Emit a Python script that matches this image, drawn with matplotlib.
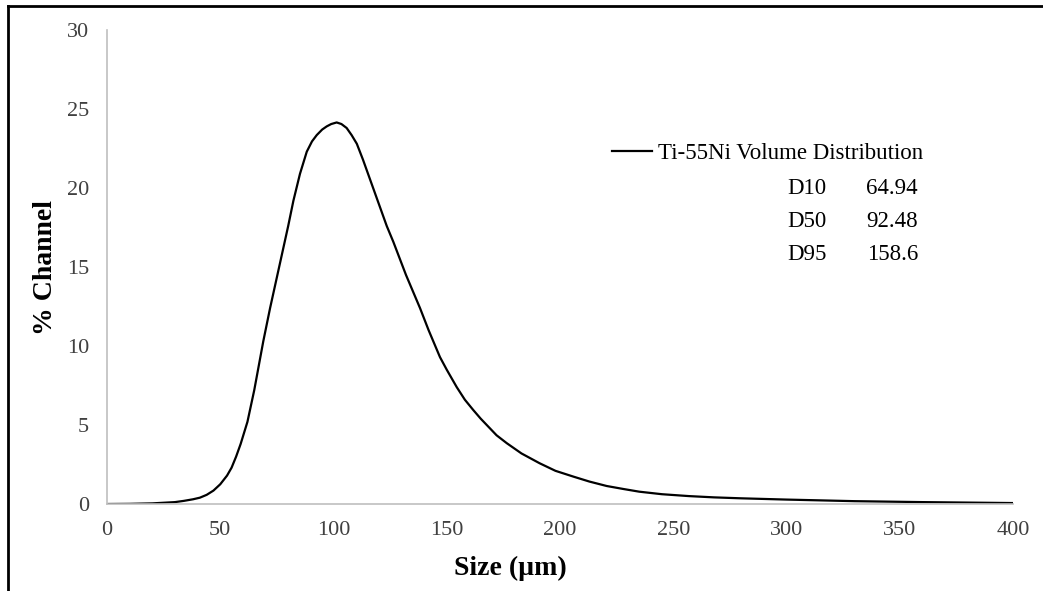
import matplotlib.pyplot as plt
from matplotlib.lines import Line2D

# particle size (um) and % channel
size_um = [0, 10, 20, 30, 34, 38, 41, 44, 47, 50, 53, 55, 57, 59, 62, 65,
           69, 72, 76, 80, 82.3, 85.2, 88.2, 90.5, 92.6, 95, 97, 99, 101.4,
           103.5, 105.8, 108, 110.3, 113, 116, 120, 123.5, 126.4, 132,
           138.2, 142, 147, 150, 154.4, 158, 161.7, 165, 169, 172, 176.5,
           183, 191, 198, 206, 213, 220.6, 228, 235, 245, 257, 268, 280,
           300, 330, 360, 400]
pct_channel = [0, 0.01, 0.04, 0.12, 0.2, 0.3, 0.4, 0.58, 0.85, 1.25, 1.8,
               2.3, 3.0, 3.8, 5.2, 7.2, 10.3, 12.4, 15.0, 17.6, 19.2, 20.9,
               22.3, 22.95, 23.35, 23.7, 23.9, 24.05, 24.15, 24.05, 23.8,
               23.35, 22.8, 21.8, 20.6, 19.0, 17.6, 16.6, 14.5, 12.4, 11.0,
               9.3, 8.5, 7.4, 6.6, 5.95, 5.4, 4.8, 4.35, 3.85, 3.2, 2.58,
               2.1, 1.73, 1.42, 1.14, 0.95, 0.78, 0.62, 0.5, 0.42, 0.36,
               0.28, 0.18, 0.12, 0.06]

stat_names = ['D10', 'D50', 'D95']
stat_values = ['64.94', '92.48', '158.6']

x_ticks = [0, 50, 100, 150, 200, 250, 300, 350, 400]
y_ticks = [0, 5, 10, 15, 20, 25, 30]

plt.rcParams['font.family'] = ['Liberation Serif', 'DejaVu Serif']

fig = plt.figure(figsize=(10.43, 5.91), dpi=100)
ax = fig.add_axes([0.1026, 0.1472, 0.8686, 0.802])

ax.plot(size_um, pct_channel, color='black', linewidth=1.6,
        label='Ti-55Ni Volume Distribution')

ax.set_xlim(0, 400)
ax.set_ylim(0, 30)
ax.set_xticks(x_ticks)
ax.set_yticks(y_ticks)
ax.tick_params(length=0, labelsize=16, colors='#404040')
ax.tick_params(axis='x', pad=12)
ax.tick_params(axis='y', pad=13)
for side in ['top', 'right']:
    ax.spines[side].set_visible(False)
for side in ['left', 'bottom']:
    ax.spines[side].set_color('#bfbfbf')
    ax.spines[side].set_linewidth(1.2)

ax.set_xlabel('Size (\u00b5m)', fontsize=20, fontweight='bold', labelpad=12,
              x=0.445)
ax.set_ylabel('% Channel', fontsize=20, fontweight='bold', labelpad=6)

ax.legend(loc='center left', bbox_to_anchor=(0.557, 0.74), frameon=False,
          fontsize=16.5, handlelength=1.75, handletextpad=0.26,
          borderaxespad=0, borderpad=0)

for i, (name, val) in enumerate(zip(stat_names, stat_values)):
    yy = 0.665 - i * 0.069
    ax.text(0.7506, yy, name, transform=ax.transAxes, fontsize=16.5,
            va='center', ha='left', color='black')
    ax.text(0.895, yy, val, transform=ax.transAxes, fontsize=16.5,
            va='center', ha='right', color='black')

# black frame on left and top of the image
fig.add_artist(Line2D([0.008, 0.008], [0, 0.99], transform=fig.transFigure,
                      color='black', linewidth=2))
fig.add_artist(Line2D([0.008, 1.0], [0.99, 0.99], transform=fig.transFigure,
                      color='black', linewidth=2))

fig.savefig('out.png', dpi=100)
plt.close(fig)
